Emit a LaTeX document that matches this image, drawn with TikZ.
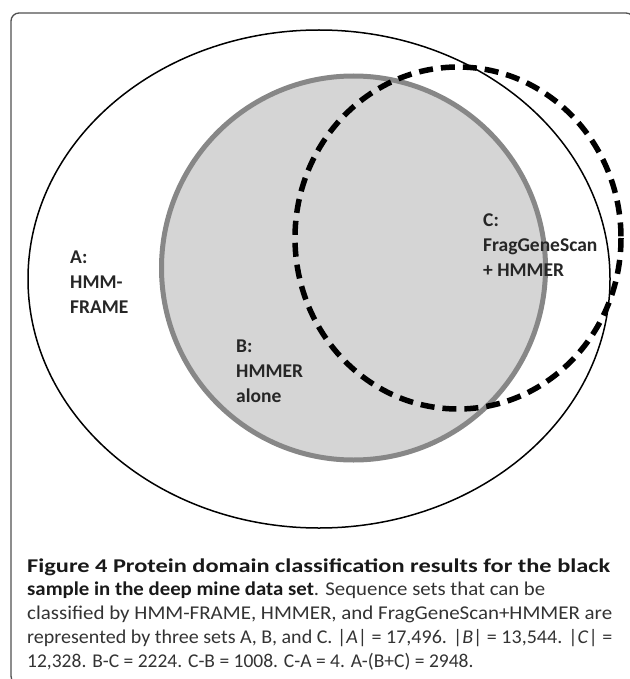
\documentclass[tikz,border=0pt]{standalone}
\usepackage{graphicx}
\usepackage{fontspec}
\setmainfont{Carlito}
\newfontfamily\labelfont{Carlito}
\newfontfamily\capfont{Carlito}
\definecolor{txt}{HTML}{262626}
\definecolor{captxt}{HTML}{333333}
\definecolor{bfill}{HTML}{D5D5D5}
\definecolor{bline}{HTML}{878787}
\definecolor{frameline}{HTML}{505050}
\newcommand{\capfit}[2]{\resizebox{#1}{\height}{#2}}
\newcommand{\capsize}{\capfont\fontsize{19.5bp}{24bp}\selectfont}
\begin{document}
\begin{tikzpicture}[x=1bp,y=-1bp,
  setlabel/.style={anchor=base west,inner sep=0pt,text=txt,font=\labelfont\bfseries\fontsize{19.5bp}{25bp}\selectfont,align=left},
  capline/.style={anchor=base west,inner sep=0pt,text=captxt,font=\capsize}]
\useasboundingbox (0,0) rectangle (630,679);
\begin{scope}
\clip (0,0) rectangle (630,679);
\draw[frameline,line width=1.3bp,rounded corners=8bp] (11,13) rectangle (634,684);
\end{scope}
% set A
\draw[black,line width=1.5bp] (319,279) ellipse [x radius=291, y radius=249];
% set B
\draw[bline,fill=bfill,line width=5bp] (353.5,268) circle [radius=192];
% set C
\draw[black,line width=5.5bp,dash pattern=on 14bp off 8bp] (458,238) ellipse [x radius=163, y radius=171];
% labels
\node[setlabel] (la) at (70,263) {A:};
\node[setlabel] (la2) at (70,288) {HMM-};
\node[setlabel] (la3) at (70,313) {FRAME};
\node[setlabel] (lb) at (236,352) {B:};
\node[setlabel] (lb2) at (236,377) {HMMER};
\node[setlabel] (lb3) at (236,402) {alone};
\node[setlabel] (lc) at (483,226) {C:};
\node[setlabel] (lc2) at (483,251) {FragGeneScan};
\node[setlabel] (lc3) at (483,276) {+ HMMER};
% caption
\node[capline] (c1) at (27,572) {\capfit{583bp}{\capsize\bfseries\color{black!90}Figure 4 Protein domain classification results for the black}};
\node[capline] (c2) at (27,595.75) {\capfit{518bp}{\capsize{\bfseries\color{black!90}sample in the deep mine data set}. Sequence sets that can be}};
\node[capline] (c3) at (27,619.5) {\capfit{585bp}{\capsize classified by HMM-FRAME, HMMER, and FragGeneScan+HMMER are}};
\node[capline] (c4) at (27,643.25) {\capfit{585bp}{\capsize represented by three sets A, B, and C. |\textit{A}| = 17,496. |\textit{B}| = 13,544. |\textit{C}| =}};
\node[capline] (c5) at (27,667) {12,328. B-C = 2224. C-B = 1008. C-A = 4. A-(B+C) = 2948.};
\end{tikzpicture}
\end{document}
